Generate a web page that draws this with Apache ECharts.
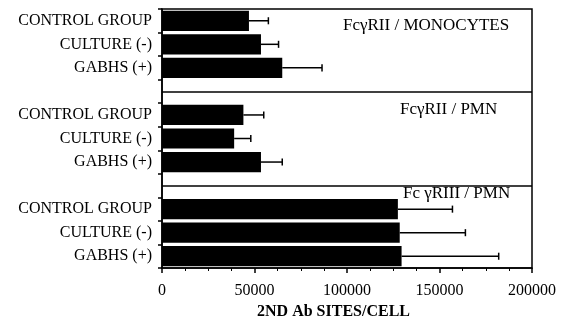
<!DOCTYPE html>
<html>
<head>
<meta charset="utf-8">
<script src="https://cdn.jsdelivr.net/npm/echarts@6/dist/echarts.min.js"></script>
<style>
  html, body { margin: 0; padding: 0; background: #fff; }
  #chart { width: 565px; height: 322px; }
</style>
</head>
<body>
<div id="chart"></div>
<script>
// Groups shown in every panel (top to bottom)
const groups = ['CONTROL GROUP', 'CULTURE (-)', 'GABHS (+)'];
// Panel captions
const panelTitles = ['Fc\u03b3RII / MONOCYTES', 'Fc\u03b3RII / PMN', 'Fc \u03b3RIII / PMN'];
// Mean binding sites per cell and their SD, one pair of arrays per panel
const monoFcRII = [47000, 53500, 65000];
const monoFcRIISD = [10500, 9500, 21500];
const pmnFcRII = [44000, 39000, 53500];
const pmnFcRIISD = [11000, 9000, 11500];
const pmnFcRIII = [127500, 128500, 129500];
const pmnFcRIIISD = [29500, 35500, 52500];
// X axis range and tick step
const xMin = 0, xMax = 200000, xStep = 50000;
const xTitle = '2ND Ab SITES/CELL';

const FONT = "'Liberation Serif', 'Times New Roman', serif";

// One continuous category axis: three groups per panel, an empty slot between panels
const panels = [
  { mean: monoFcRII, sd: monoFcRIISD },
  { mean: pmnFcRII, sd: pmnFcRIISD },
  { mean: pmnFcRIII, sd: pmnFcRIIISD }
];
const categories = [];
const barValues = [];
const errData = [];
const dividerIdx = [];
panels.forEach((p, pi) => {
  if (pi > 0) {
    dividerIdx.push(categories.length);
    categories.push('');
    barValues.push('-');
  }
  groups.forEach((g, gi) => {
    errData.push([categories.length, p.mean[gi], p.sd[gi]]);
    categories.push(g);
    barValues.push(p.mean[gi]);
  });
});

const chart = echarts.init(document.getElementById('chart'), null, { renderer: 'canvas' });

const titlePos = [[343, 17], [400, 101], [403, 185]];

chart.setOption({
  backgroundColor: '#fff',
  animation: false,
  title: panelTitles.map((t, i) => ({
    text: t,
    left: titlePos[i][0],
    top: titlePos[i][1],
    padding: 0,
    textStyle: { fontFamily: FONT, fontSize: 17, fontWeight: 'normal', color: '#000' }
  })),
  grid: {
    left: 162, right: 33, top: 9, bottom: 54,
    outerBoundsMode: 'none',
    containLabel: false,
    show: true, borderColor: '#000', borderWidth: 1.5, backgroundColor: 'transparent'
  },
  xAxis: {
    type: 'value',
    min: xMin, max: xMax, interval: xStep,
    axisLine: { show: true, lineStyle: { color: '#000', width: 1.5 } },
    axisTick: { show: true, length: 5, lineStyle: { color: '#000', width: 1.5 } },
    minorTick: { show: true, splitNumber: 4, length: 3, lineStyle: { color: '#000', width: 1 } },
    splitLine: { show: false },
    axisLabel: { color: '#000', fontFamily: FONT, fontSize: 16, margin: 15, formatter: v => String(v) },
    name: xTitle,
    nameLocation: 'middle',
    nameGap: 33,
    nameTextStyle: { color: '#000', fontFamily: FONT, fontSize: 16, fontWeight: 'bold', padding: [0, 27, 0, 0] }
  },
  yAxis: {
    type: 'category',
    inverse: true,
    data: categories,
    axisLine: { show: true, lineStyle: { color: '#000', width: 1.5 } },
    axisTick: { show: true, interval: 0, length: 4, lineStyle: { color: '#000', width: 1.5 } },
    axisLabel: { interval: 0, color: '#000', fontFamily: FONT, fontSize: 16, margin: 10 },
    splitLine: { show: false }
  },
  series: [
    {
      type: 'bar',
      data: barValues,
      barCategoryGap: '14%',
      itemStyle: { color: '#000' },
      markLine: {
        silent: true,
        symbol: ['none', 'none'],
        label: { show: false },
        lineStyle: { color: '#000', width: 1.5, type: 'solid' },
        data: dividerIdx.map(i => ({ yAxis: i }))
      }
    },
    {
      type: 'custom',
      data: errData,
      encode: { x: [1, 2], y: 0 },
      z: 3,
      renderItem: function (params, api) {
        const cat = api.value(0);
        const m = api.value(1);
        const s = api.value(2);
        const p0 = api.coord([m, cat]);
        const p1 = api.coord([m + s, cat]);
        const cap = api.size([0, 1])[1] * 0.3;
        const st = { stroke: '#000', lineWidth: 1.5 };
        return {
          type: 'group',
          children: [
            { type: 'line', shape: { x1: p0[0], y1: p0[1], x2: p1[0], y2: p1[1] }, style: st },
            { type: 'line', shape: { x1: p1[0], y1: p1[1] - cap / 2, x2: p1[0], y2: p1[1] + cap / 2 }, style: st }
          ]
        };
      }
    }
  ]
});
</script>
</body>
</html>
